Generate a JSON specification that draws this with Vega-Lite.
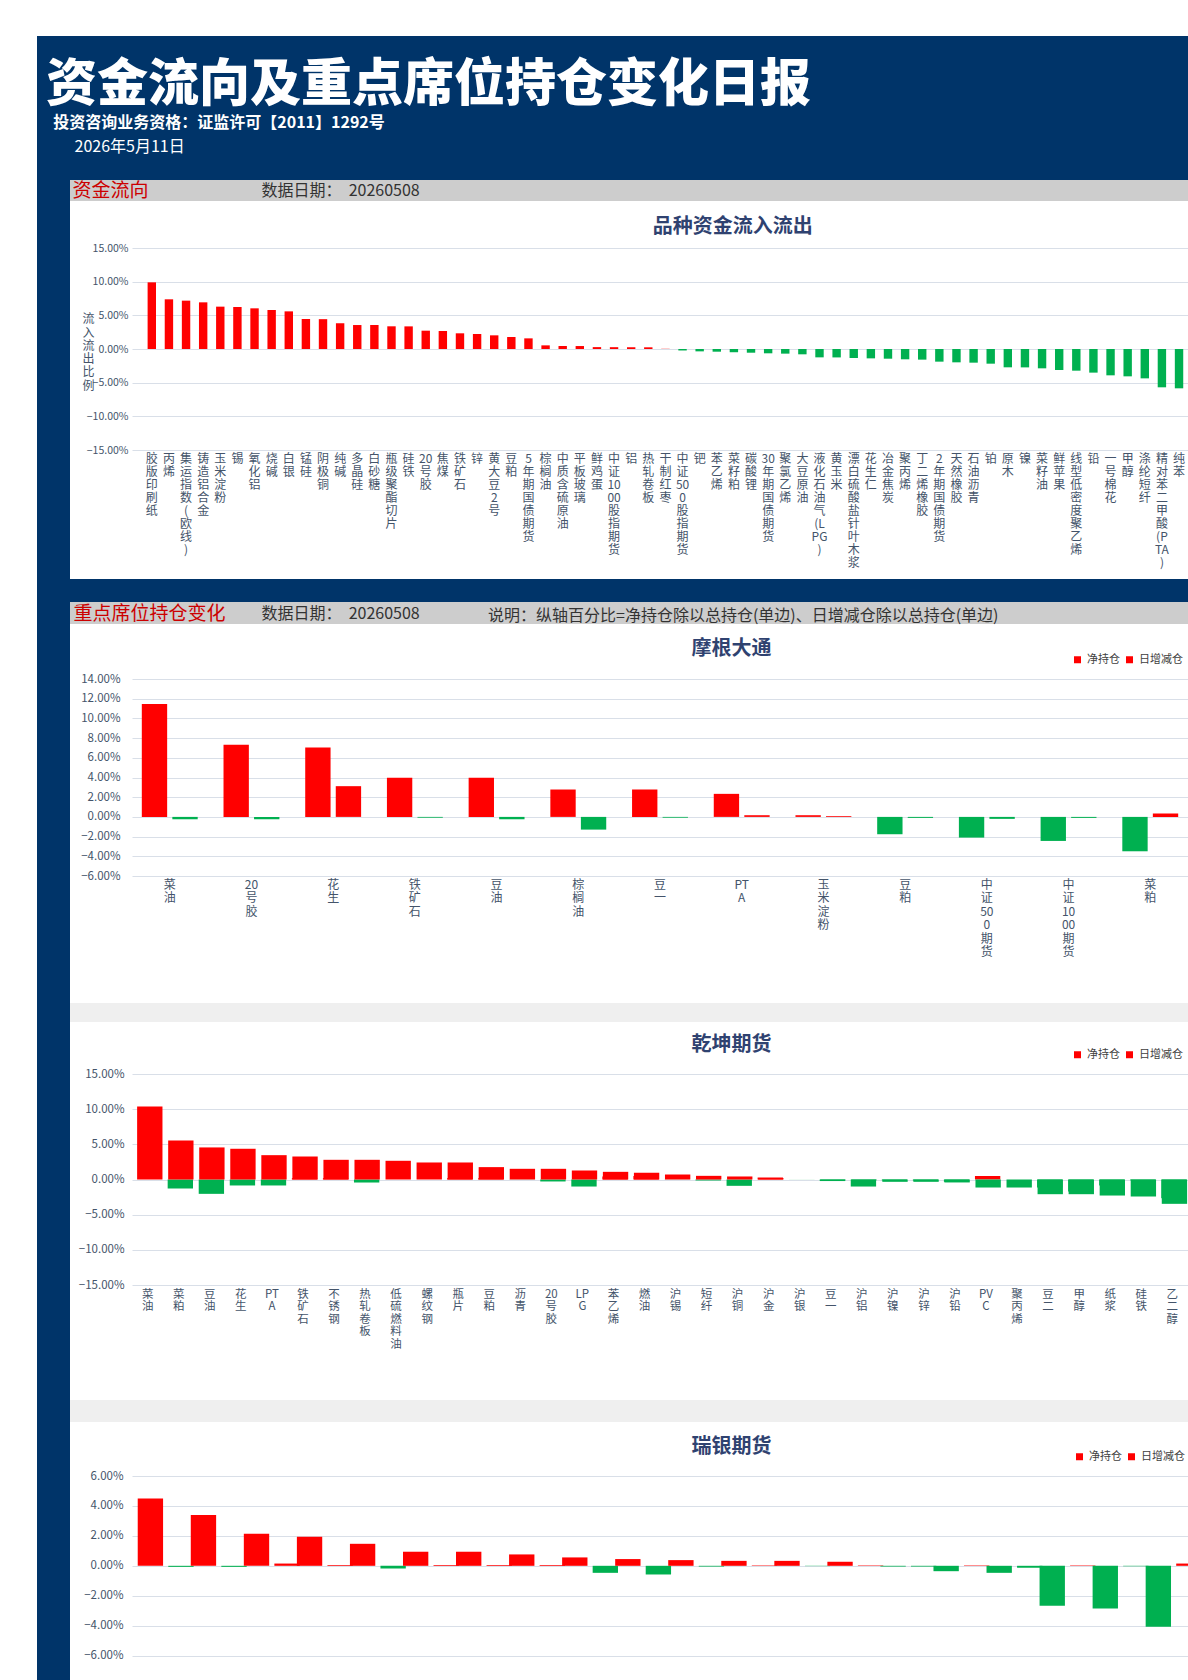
{
  "$schema": "https://vega.github.io/schema/vega-lite/v6.json",
  "background": "#FFFFFF",
  "padding": {"left": 37, "top": 36, "right": 0, "bottom": 0},
  "bounds": "flush",
  "spacing": 0,
  "resolve": {"scale": {"color": "independent"}, "legend": {"color": "independent"}},
  "config": {
    "font": "Noto Sans CJK SC",
    "view": {"stroke": null},
    "axis": {"domain": false, "ticks": false, "labelColor": "#44546A", "titleColor": "#44546A", "gridColor": "#D9DFE8", "gridWidth": 1, "labelFont": "Noto Sans CJK SC", "titleFont": "Noto Sans CJK SC"},
    "title": {"font": "Noto Sans CJK SC", "color": "#2F4270", "fontSize": 20, "fontWeight": "bold"},
    "legend": {"orient": "none", "direction": "horizontal", "symbolType": "square", "symbolSize": 49, "symbolStrokeWidth": 0, "labelFontSize": 11, "labelColor": "#404040", "labelOffset": 4, "columnPadding": 4, "padding": 0, "labelFont": "Noto Sans CJK SC"}
  },
  "datasets": {
    "flow": [
      {"cat": "胶版印刷纸", "v": 9.90}, {"cat": "丙烯", "v": 7.38}, {"cat": "集运指数(欧线)", "v": 7.18}, {"cat": "铸造铝合金", "v": 6.93},
      {"cat": "玉米淀粉", "v": 6.29}, {"cat": "锡", "v": 6.24}, {"cat": "氧化铝", "v": 6.04}, {"cat": "烧碱", "v": 5.79},
      {"cat": "白银", "v": 5.59}, {"cat": "锰硅", "v": 4.46}, {"cat": "阴极铜", "v": 4.43}, {"cat": "纯碱", "v": 3.81},
      {"cat": "多晶硅", "v": 3.56}, {"cat": "白砂糖", "v": 3.55}, {"cat": "瓶级聚酯切片", "v": 3.37}, {"cat": "硅铁", "v": 3.36},
      {"cat": "20号胶", "v": 2.72}, {"cat": "焦煤", "v": 2.67}, {"cat": "铁矿石", "v": 2.33}, {"cat": "锌", "v": 2.23},
      {"cat": "黄大豆2号", "v": 2.03}, {"cat": "豆粕", "v": 1.78}, {"cat": "5年期国债期货", "v": 1.58}, {"cat": "棕榈油", "v": 0.54},
      {"cat": "中质含硫原油", "v": 0.45}, {"cat": "平板玻璃", "v": 0.44}, {"cat": "鲜鸡蛋", "v": 0.28}, {"cat": "中证1000股指期货", "v": 0.27},
      {"cat": "铝", "v": 0.26}, {"cat": "热轧卷板", "v": 0.25}, {"cat": "干制红枣", "v": 0.03}, {"cat": "中证500股指期货", "v": -0.22},
      {"cat": "钯", "v": -0.35}, {"cat": "苯乙烯", "v": -0.40}, {"cat": "菜籽粕", "v": -0.48}, {"cat": "碳酸锂", "v": -0.55},
      {"cat": "30年期国债期货", "v": -0.64}, {"cat": "聚氯乙烯", "v": -0.69}, {"cat": "大豆原油", "v": -0.79}, {"cat": "液化石油气(LPG)", "v": -1.24},
      {"cat": "黄玉米", "v": -1.25}, {"cat": "漂白硫酸盐针叶木浆", "v": -1.34}, {"cat": "花生仁", "v": -1.39}, {"cat": "冶金焦炭", "v": -1.44},
      {"cat": "聚丙烯", "v": -1.53}, {"cat": "丁二烯橡胶", "v": -1.58}, {"cat": "2年期国债期货", "v": -1.88}, {"cat": "天然橡胶", "v": -1.98},
      {"cat": "石油沥青", "v": -2.03}, {"cat": "铂", "v": -2.18}, {"cat": "原木", "v": -2.72}, {"cat": "镍", "v": -2.73},
      {"cat": "菜籽油", "v": -2.87}, {"cat": "鲜苹果", "v": -3.12}, {"cat": "线型低密度聚乙烯", "v": -3.22}, {"cat": "铅", "v": -3.51},
      {"cat": "一号棉花", "v": -3.91}, {"cat": "甲醇", "v": -4.06}, {"cat": "涤纶短纤", "v": -4.36}, {"cat": "精对苯二甲酸(PTA)", "v": -5.69},
      {"cat": "纯苯", "v": -5.84}
    ],
    "jpm": [
      {"cat": "菜油", "series": "净持仓", "v": 11.46}, {"cat": "菜油", "series": "日增减仓", "v": -0.24},
      {"cat": "20号胶", "series": "净持仓", "v": 7.32}, {"cat": "20号胶", "series": "日增减仓", "v": -0.24},
      {"cat": "花生", "series": "净持仓", "v": 7.05}, {"cat": "花生", "series": "日增减仓", "v": 3.12},
      {"cat": "铁矿石", "series": "净持仓", "v": 3.97}, {"cat": "铁矿石", "series": "日增减仓", "v": -0.08},
      {"cat": "豆油", "series": "净持仓", "v": 3.97}, {"cat": "豆油", "series": "日增减仓", "v": -0.24},
      {"cat": "棕榈油", "series": "净持仓", "v": 2.78}, {"cat": "棕榈油", "series": "日增减仓", "v": -1.29},
      {"cat": "豆一", "series": "净持仓", "v": 2.78}, {"cat": "豆一", "series": "日增减仓", "v": -0.08},
      {"cat": "PTA", "series": "净持仓", "v": 2.34}, {"cat": "PTA", "series": "日增减仓", "v": 0.17},
      {"cat": "玉米淀粉", "series": "净持仓", "v": 0.17}, {"cat": "玉米淀粉", "series": "日增减仓", "v": 0.08},
      {"cat": "豆粕", "series": "净持仓", "v": -1.76}, {"cat": "豆粕", "series": "日增减仓", "v": -0.10},
      {"cat": "中证500期货", "series": "净持仓", "v": -2.10}, {"cat": "中证500期货", "series": "日增减仓", "v": -0.20},
      {"cat": "中证1000期货", "series": "净持仓", "v": -2.44}, {"cat": "中证1000期货", "series": "日增减仓", "v": -0.10},
      {"cat": "菜粕", "series": "净持仓", "v": -3.49}, {"cat": "菜粕", "series": "日增减仓", "v": 0.34}
    ],
    "qk": [
      {"cat": "菜油", "series": "净持仓", "v": 10.39}, {"cat": "菜油", "series": "日增减仓", "v": -1.28},
      {"cat": "菜粕", "series": "净持仓", "v": 5.55}, {"cat": "菜粕", "series": "日增减仓", "v": -2.04},
      {"cat": "豆油", "series": "净持仓", "v": 4.56}, {"cat": "豆油", "series": "日增减仓", "v": -0.85},
      {"cat": "花生", "series": "净持仓", "v": 4.37}, {"cat": "花生", "series": "日增减仓", "v": -0.85},
      {"cat": "PTA", "series": "净持仓", "v": 3.46}, {"cat": "PTA", "series": "日增减仓", "v": 0.19},
      {"cat": "铁矿石", "series": "净持仓", "v": 3.27}, {"cat": "铁矿石", "series": "日增减仓", "v": 0.19},
      {"cat": "不锈钢", "series": "净持仓", "v": 2.80}, {"cat": "不锈钢", "series": "日增减仓", "v": -0.43},
      {"cat": "热轧卷板", "series": "净持仓", "v": 2.80}, {"cat": "热轧卷板", "series": "日增减仓", "v": 0.0},
      {"cat": "低硫燃料油", "series": "净持仓", "v": 2.66}, {"cat": "低硫燃料油", "series": "日增减仓", "v": 0.0},
      {"cat": "螺纹钢", "series": "净持仓", "v": 2.42}, {"cat": "螺纹钢", "series": "日增减仓", "v": 0.19},
      {"cat": "瓶片", "series": "净持仓", "v": 2.42}, {"cat": "瓶片", "series": "日增减仓", "v": 0.19},
      {"cat": "豆粕", "series": "净持仓", "v": 1.76}, {"cat": "豆粕", "series": "日增减仓", "v": -0.02},
      {"cat": "沥青", "series": "净持仓", "v": 1.52}, {"cat": "沥青", "series": "日增减仓", "v": -0.28},
      {"cat": "20号胶", "series": "净持仓", "v": 1.52}, {"cat": "20号胶", "series": "日增减仓", "v": -1.00},
      {"cat": "LPG", "series": "净持仓", "v": 1.28}, {"cat": "LPG", "series": "日增减仓", "v": 0.43},
      {"cat": "苯乙烯", "series": "净持仓", "v": 1.09}, {"cat": "苯乙烯", "series": "日增减仓", "v": 0.50},
      {"cat": "燃油", "series": "净持仓", "v": 0.95}, {"cat": "燃油", "series": "日增减仓", "v": -0.02},
      {"cat": "沪锡", "series": "净持仓", "v": 0.71}, {"cat": "沪锡", "series": "日增减仓", "v": -0.14},
      {"cat": "短纤", "series": "净持仓", "v": 0.52}, {"cat": "短纤", "series": "日增减仓", "v": -0.90},
      {"cat": "沪铜", "series": "净持仓", "v": 0.43}, {"cat": "沪铜", "series": "日增减仓", "v": 0.28},
      {"cat": "沪金", "series": "净持仓", "v": 0.22}, {"cat": "沪金", "series": "日增减仓", "v": 0.0},
      {"cat": "沪银", "series": "净持仓", "v": -0.01}, {"cat": "沪银", "series": "日增减仓", "v": -0.22},
      {"cat": "豆一", "series": "净持仓", "v": -0.15}, {"cat": "豆一", "series": "日增减仓", "v": -1.00},
      {"cat": "沪铝", "series": "净持仓", "v": -0.12}, {"cat": "沪铝", "series": "日增减仓", "v": -0.12},
      {"cat": "沪镍", "series": "净持仓", "v": -0.33}, {"cat": "沪镍", "series": "日增减仓", "v": -0.15},
      {"cat": "沪锌", "series": "净持仓", "v": -0.33}, {"cat": "沪锌", "series": "日增减仓", "v": -0.33},
      {"cat": "沪铅", "series": "净持仓", "v": -0.42}, {"cat": "沪铅", "series": "日增减仓", "v": 0.50},
      {"cat": "PVC", "series": "净持仓", "v": -1.14}, {"cat": "PVC", "series": "日增减仓", "v": 0.0},
      {"cat": "聚丙烯", "series": "净持仓", "v": -1.14}, {"cat": "聚丙烯", "series": "日增减仓", "v": -1.14},
      {"cat": "豆二", "series": "净持仓", "v": -2.09}, {"cat": "豆二", "series": "日增减仓", "v": -1.71},
      {"cat": "甲醇", "series": "净持仓", "v": -2.09}, {"cat": "甲醇", "series": "日增减仓", "v": -0.85},
      {"cat": "纸浆", "series": "净持仓", "v": -2.28}, {"cat": "纸浆", "series": "日增减仓", "v": -0.12},
      {"cat": "硅铁", "series": "净持仓", "v": -2.42}, {"cat": "硅铁", "series": "日增减仓", "v": -2.66},
      {"cat": "乙二醇", "series": "净持仓", "v": -3.46}, {"cat": "乙二醇", "series": "日增减仓", "v": 0.0}
    ],
    "ubs": [
      {"cat": "品种01", "series": "净持仓", "v": 4.50}, {"cat": "品种01", "series": "日增减仓", "v": -0.07},
      {"cat": "品种02", "series": "净持仓", "v": 3.39}, {"cat": "品种02", "series": "日增减仓", "v": -0.07},
      {"cat": "品种03", "series": "净持仓", "v": 2.14}, {"cat": "品种03", "series": "日增减仓", "v": 0.15},
      {"cat": "品种04", "series": "净持仓", "v": 1.94}, {"cat": "品种04", "series": "日增减仓", "v": 0.05},
      {"cat": "品种05", "series": "净持仓", "v": 1.47}, {"cat": "品种05", "series": "日增减仓", "v": -0.18},
      {"cat": "品种06", "series": "净持仓", "v": 0.94}, {"cat": "品种06", "series": "日增减仓", "v": 0.05},
      {"cat": "品种07", "series": "净持仓", "v": 0.94}, {"cat": "品种07", "series": "日增减仓", "v": 0.05},
      {"cat": "品种08", "series": "净持仓", "v": 0.76}, {"cat": "品种08", "series": "日增减仓", "v": 0.05},
      {"cat": "品种09", "series": "净持仓", "v": 0.56}, {"cat": "品种09", "series": "日增减仓", "v": -0.47},
      {"cat": "品种10", "series": "净持仓", "v": 0.45}, {"cat": "品种10", "series": "日增减仓", "v": -0.58},
      {"cat": "品种11", "series": "净持仓", "v": 0.38}, {"cat": "品种11", "series": "日增减仓", "v": -0.05},
      {"cat": "品种12", "series": "净持仓", "v": 0.33}, {"cat": "品种12", "series": "日增减仓", "v": 0.03},
      {"cat": "品种13", "series": "净持仓", "v": 0.33}, {"cat": "品种13", "series": "日增减仓", "v": -0.02},
      {"cat": "品种14", "series": "净持仓", "v": 0.27}, {"cat": "品种14", "series": "日增减仓", "v": 0.03},
      {"cat": "品种15", "series": "净持仓", "v": -0.05}, {"cat": "品种15", "series": "日增减仓", "v": -0.05},
      {"cat": "品种16", "series": "净持仓", "v": -0.36}, {"cat": "品种16", "series": "日增减仓", "v": 0.03},
      {"cat": "品种17", "series": "净持仓", "v": -0.47}, {"cat": "品种17", "series": "日增减仓", "v": -0.13},
      {"cat": "品种18", "series": "净持仓", "v": -2.67}, {"cat": "品种18", "series": "日增减仓", "v": 0.03},
      {"cat": "品种19", "series": "净持仓", "v": -2.85}, {"cat": "品种19", "series": "日增减仓", "v": -0.03},
      {"cat": "品种20", "series": "净持仓", "v": -4.08}, {"cat": "品种20", "series": "日增减仓", "v": 0.15}
    ]
  },
  "vconcat": [
    {
      "width": 1151, "height": 144,
      "view": {"fill": "#003469", "stroke": null},
      "data": {"values": [{"k": "a"}]},
      "mark": {"type": "text", "text": ""},
      "encoding": {
        "x": {"field": "k", "type": "nominal", "axis": {"orient": "top", "labels": false, "ticks": false, "domain": false, "grid": false, "title": "2026年5月11日", "titleX": 37, "titleY": 110, "titleAlign": "left", "titleBaseline": "middle", "titleFontSize": 16, "titleFontWeight": "normal", "titleColor": "#FFFFFF"}}
      },
      "title": {"text": "资金流向及重点席位持仓变化日报", "subtitle": "\u200b\u00a0\u00a0投资咨询业务资格：证监许可【2011】1292号", "anchor": "start", "frame": "group", "orient": "top", "offset": -96, "dx": 9, "fontSize": 51, "fontWeight": 900, "color": "#FFFFFF", "subtitleFontSize": 16, "subtitleFontWeight": "bold", "subtitleColor": "#FFFFFF", "subtitlePadding": 3, "subtitleFont": "Noto Sans CJK SC"}
    },
    {
      "hconcat": [
        {"width": 33, "height": 1500, "view": {"fill": "#003469", "stroke": null}, "data": {"values": [{}]}, "mark": {"type": "text", "text": ""}},
        {
          "columns": 2,
          "align": "each",
          "bounds": "flush",
          "spacing": 0,
          "resolve": {"scale": {"color": "independent"}, "legend": {"color": "independent"}},
          "concat": [
            {"width": 62, "height": 21, "view": {"fill": "#CDCDCD", "stroke": null}, "data": {"values": [{}]}, "mark": {"type": "text", "text": ""}},
            {
              "width": 1056, "height": 21,
              "view": {"fill": "#CDCDCD", "stroke": null},
              "data": {"values": [{"k": "a"}]},
              "mark": {"type": "text", "text": ""},
              "encoding": {
                "x": {"field": "k", "type": "nominal", "axis": {"orient": "top", "labels": false, "ticks": false, "domain": false, "grid": false, "title": "数据日期：\u00a0\u00a020260508", "titleX": 129, "titleY": 10.5, "titleAlign": "left", "titleBaseline": "middle", "titleFontSize": 16, "titleFontWeight": "normal", "titleColor": "#333333"}},
                "y": {"field": "k", "type": "nominal", "axis": {"orient": "left", "labels": false, "ticks": false, "domain": false, "grid": false, "title": "资金流向", "titleAngle": 0, "titleX": -60, "titleY": 10.5, "titleAlign": "left", "titleBaseline": "middle", "titleFontSize": 19, "titleFontWeight": "normal", "titleColor": "#CC0000"}}
              }
            },
            {"width": 62, "height": 47, "data": {"values": [{}]}, "mark": {"type": "text", "text": ""}},
            {"width": 1056, "height": 47, "data": {"values": [{}]}, "mark": {"type": "text", "text": ""}},
            {"width": 62, "height": 202, "data": {"values": [{}]}, "mark": {"type": "text", "text": ""}},
            {
              "width": 1056, "height": 202,
              "data": {"name": "flow"},
              "title": {"text": "品种资金流入流出", "anchor": "middle", "frame": "group", "dx": 72.75, "offset": 6.5},
              "mark": {"type": "bar"},
              "encoding": {
                "x": {"field": "cat", "type": "nominal", "sort": null, "scale": {"paddingInner": 0.509, "paddingOuter": 0.595, "align": 0.766},
                  "axis": {"title": null, "labelAngle": 0, "labelExpr": "split(replace(datum.label, regexp('([ -~]{1,2}|[^ -~])', 'g'), '$1|'), '|')", "labelBaseline": "top", "labelAlign": "center", "labelPadding": 3, "labelFontSize": 12, "labelLineHeight": 13, "labelOverlap": false, "labelLimit": 0, "grid": false}},
                "y": {"field": "v", "type": "quantitative", "scale": {"domain": [-15, 15], "nice": false},
                  "axis": {"values": [-15, -10, -5, 0, 5, 10, 15], "labelExpr": "format(datum.value, '.2f') + '%'", "labelFontSize": 10.5, "labelPadding": 4, "grid": true,
                    "title": ["流", "入", "流", "出", "比", "例"], "titleAngle": 0, "titleX": -44, "titleY": 70.7, "titleAlign": "center", "titleBaseline": "middle", "titleFontSize": 12, "titleFontWeight": "normal", "titleLineHeight": 13.3}},
                "color": {"condition": {"test": "datum.v < 0", "value": "#00B050"}, "value": "#FF0000"}
              }
            },
            {"width": 62, "height": 129, "data": {"values": [{}]}, "mark": {"type": "text", "text": ""}},
            {"width": 1056, "height": 129, "data": {"values": [{}]}, "mark": {"type": "text", "text": ""}},
            {"width": 62, "height": 23, "view": {"fill": "#003469", "stroke": null}, "data": {"values": [{}]}, "mark": {"type": "text", "text": ""}},
            {"width": 1056, "height": 23, "view": {"fill": "#003469", "stroke": null}, "data": {"values": [{}]}, "mark": {"type": "text", "text": ""}},
            {"width": 62, "height": 22, "view": {"fill": "#CDCDCD", "stroke": null}, "data": {"values": [{}]}, "mark": {"type": "text", "text": ""}},
            {
              "width": 1056, "height": 22,
              "view": {"fill": "#CDCDCD", "stroke": null},
              "data": {"values": [{"k": "a"}]},
              "mark": {"type": "text", "text": ""},
              "title": {"text": "说明：纵轴百分比=净持仓除以总持仓(单边)、日增减仓除以总持仓(单边)", "anchor": "start", "frame": "group", "orient": "top", "dx": 356, "offset": -29.6, "baseline": "middle", "fontSize": 16, "fontWeight": "normal", "color": "#333333"},
              "encoding": {
                "x": {"field": "k", "type": "nominal", "axis": {"orient": "top", "labels": false, "ticks": false, "domain": false, "grid": false, "title": "数据日期：\u00a0\u00a020260508", "titleX": 129, "titleY": 11, "titleAlign": "left", "titleBaseline": "middle", "titleFontSize": 16, "titleFontWeight": "normal", "titleColor": "#333333"}},
                "y": {"field": "k", "type": "nominal", "axis": {"orient": "left", "labels": false, "ticks": false, "domain": false, "grid": false, "title": "重点席位持仓变化", "titleAngle": 0, "titleX": -59, "titleY": 11, "titleAlign": "left", "titleBaseline": "middle", "titleFontSize": 19, "titleFontWeight": "normal", "titleColor": "#CC0000"}}
              }
            },
            {"width": 62, "height": 55, "data": {"values": [{}]}, "mark": {"type": "text", "text": ""}},
            {"width": 1056, "height": 55, "data": {"values": [{}]}, "mark": {"type": "text", "text": ""}},
            {"width": 62, "height": 197, "data": {"values": [{}]}, "mark": {"type": "text", "text": ""}},
            {
              "width": 1056, "height": 197,
              "data": {"name": "jpm"},
              "title": {"text": "摩根大通", "anchor": "middle", "frame": "group", "dx": 71.5, "offset": -5},
              "encoding": {
                "x": {"field": "cat", "type": "nominal", "sort": null, "scale": {"paddingInner": 0.316, "paddingOuter": 0.12},
                  "axis": {"title": null, "labelAngle": 0, "labelExpr": "split(replace(datum.label, regexp('([ -~]{1,2}|[^ -~])', 'g'), '$1|'), '|')", "labelBaseline": "top", "labelAlign": "center", "labelPadding": 3, "labelFontSize": 12, "labelLineHeight": 13.5, "labelOverlap": false, "labelLimit": 0, "grid": false}},
                "xOffset": {"field": "series", "type": "nominal", "sort": null, "scale": {"paddingInner": 0.17, "paddingOuter": 0}},
                "y": {"field": "v", "type": "quantitative", "scale": {"domain": [-6, 14], "nice": false},
                  "axis": {"values": [-6, -4, -2, 0, 2, 4, 6, 8, 10, 12, 14], "labelExpr": "format(datum.value, '.2f') + '%'", "labelFontSize": 11.5, "labelPadding": 12, "grid": true, "title": null}}
              },
              "layer": [
                {"mark": {"type": "bar"}, "encoding": {"color": {"condition": {"test": "datum.v < 0", "value": "#00B050"}, "value": "#FF0000"}}},
                {"mark": {"type": "square", "size": 0, "opacity": 1}, "encoding": {"color": {"field": "series", "type": "nominal", "sort": null, "scale": {"domain": ["净持仓", "日增减仓"], "range": ["#FF0000", "#FF0000"]}, "legend": {"title": null, "orient": "none", "legendX": 940, "legendY": -25}}}}
              ]
            },
            {"width": 62, "height": 127, "data": {"values": [{}]}, "mark": {"type": "text", "text": ""}},
            {"width": 1056, "height": 127, "data": {"values": [{}]}, "mark": {"type": "text", "text": ""}},
            {"width": 62, "height": 19, "view": {"fill": "#EFEFEF", "stroke": null}, "data": {"values": [{}]}, "mark": {"type": "text", "text": ""}},
            {"width": 1056, "height": 19, "view": {"fill": "#EFEFEF", "stroke": null}, "data": {"values": [{}]}, "mark": {"type": "text", "text": ""}},
            {"width": 62, "height": 52, "data": {"values": [{}]}, "mark": {"type": "text", "text": ""}},
            {"width": 1056, "height": 52, "data": {"values": [{}]}, "mark": {"type": "text", "text": ""}},
            {"width": 62, "height": 211, "data": {"values": [{}]}, "mark": {"type": "text", "text": ""}},
            {
              "width": 1056, "height": 211,
              "data": {"name": "qk"},
              "title": {"text": "乾坤期货", "anchor": "middle", "frame": "group", "dx": 71.5, "offset": -6},
              "encoding": {
                "x": {"field": "cat", "type": "nominal", "sort": null, "scale": {"paddingInner": 0.32, "paddingOuter": 0.165},
                  "axis": {"title": null, "labelAngle": 0, "labelExpr": "split(replace(datum.label, regexp('([ -~]{1,2}|[^ -~])', 'g'), '$1|'), '|')", "labelBaseline": "top", "labelAlign": "center", "labelPadding": 3, "labelFontSize": 11.5, "labelLineHeight": 12.5, "labelOverlap": false, "labelLimit": 0, "grid": false}},
                "xOffset": {"field": "series", "type": "nominal", "sort": null, "scale": {"paddingInner": 0.28, "paddingOuter": 0}},
                "y": {"field": "v", "type": "quantitative", "scale": {"domain": [-15, 15], "nice": false},
                  "axis": {"values": [-15, -10, -5, 0, 5, 10, 15], "labelExpr": "format(datum.value, '.2f') + '%'", "labelFontSize": 11.5, "labelPadding": 8, "grid": true, "title": null}}
              },
              "layer": [
                {"mark": {"type": "bar"}, "encoding": {"color": {"condition": {"test": "datum.v < 0", "value": "#00B050"}, "value": "#FF0000"}}},
                {"mark": {"type": "square", "size": 0, "opacity": 1}, "encoding": {"color": {"field": "series", "type": "nominal", "sort": null, "scale": {"domain": ["净持仓", "日增减仓"], "range": ["#FF0000", "#FF0000"]}, "legend": {"title": null, "orient": "none", "legendX": 940, "legendY": -25}}}}
              ]
            },
            {"width": 62, "height": 115, "data": {"values": [{}]}, "mark": {"type": "text", "text": ""}},
            {"width": 1056, "height": 115, "data": {"values": [{}]}, "mark": {"type": "text", "text": ""}},
            {"width": 62, "height": 22, "view": {"fill": "#EFEFEF", "stroke": null}, "data": {"values": [{}]}, "mark": {"type": "text", "text": ""}},
            {"width": 1056, "height": 22, "view": {"fill": "#EFEFEF", "stroke": null}, "data": {"values": [{}]}, "mark": {"type": "text", "text": ""}},
            {"width": 62, "height": 54, "data": {"values": [{}]}, "mark": {"type": "text", "text": ""}},
            {"width": 1056, "height": 54, "data": {"values": [{}]}, "mark": {"type": "text", "text": ""}},
            {"width": 62, "height": 204, "data": {"values": [{}]}, "mark": {"type": "text", "text": ""}},
            {
              "width": 1056, "height": 204,
              "data": {"name": "ubs"},
              "title": {"text": "瑞银期货", "anchor": "middle", "frame": "group", "dx": 71.5, "offset": -5.5},
              "encoding": {
                "x": {"field": "cat", "type": "nominal", "sort": null, "scale": {"paddingInner": 0.31, "paddingOuter": 0.108}, "axis": null},
                "xOffset": {"field": "series", "type": "nominal", "sort": null, "scale": {"paddingInner": 0.136, "paddingOuter": 0}},
                "y": {"field": "v", "type": "quantitative", "scale": {"domain": [-7.63, 6], "nice": false},
                  "axis": {"values": [-6, -4, -2, 0, 2, 4, 6], "labelExpr": "format(datum.value, '.2f') + '%'", "labelFontSize": 11.5, "labelPadding": 9, "grid": true, "title": null}}
              },
              "layer": [
                {"mark": {"type": "bar"}, "encoding": {"color": {"condition": {"test": "datum.v < 0", "value": "#00B050"}, "value": "#FF0000"}}},
                {"mark": {"type": "square", "size": 0, "opacity": 1}, "encoding": {"color": {"field": "series", "type": "nominal", "sort": null, "scale": {"domain": ["净持仓", "日增减仓"], "range": ["#FF0000", "#FF0000"]}, "legend": {"title": null, "orient": "none", "legendX": 942, "legendY": -25}}}}
              ]
            }
          ]
        }
      ],
      "spacing": 0, "bounds": "flush",
      "resolve": {"scale": {"color": "independent"}, "legend": {"color": "independent"}}
    }
  ]
}
